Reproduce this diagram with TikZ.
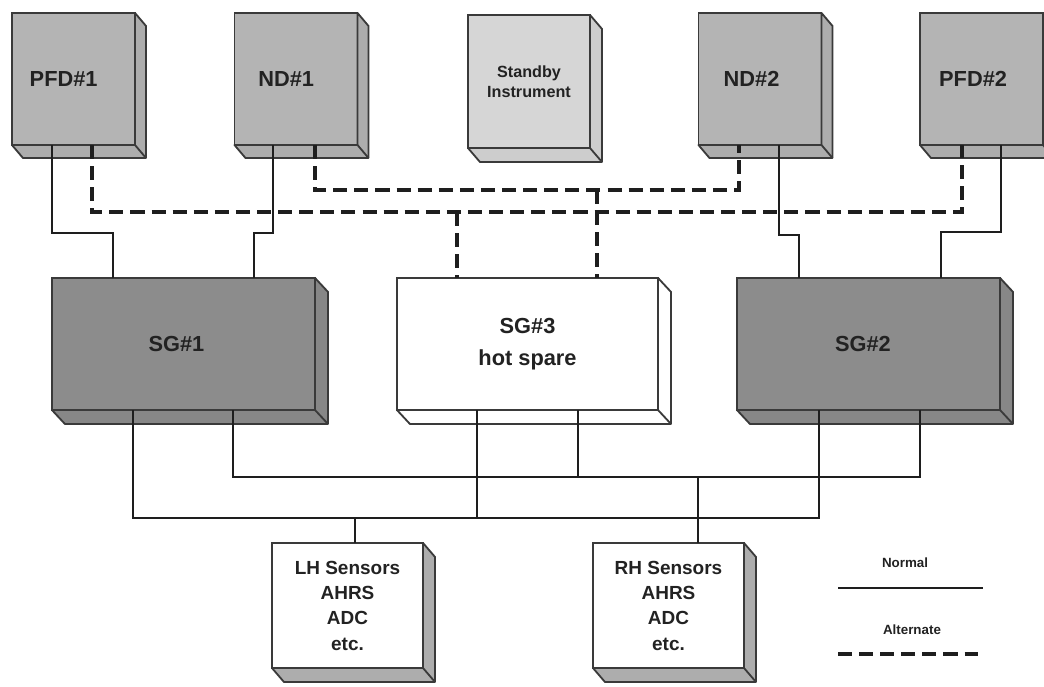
\documentclass[tikz,border=0pt]{standalone}
\usepackage{fontspec}
\setmainfont{Liberation Sans}
\usetikzlibrary{calc}
\definecolor{unitgray}{HTML}{B4B4B4}
\definecolor{unitside}{HTML}{ADADAD}
\definecolor{standbygray}{HTML}{D6D6D6}
\definecolor{standbyside}{HTML}{CDCDCD}
\definecolor{symgray}{HTML}{8C8C8C}
\definecolor{symside}{HTML}{878787}
\definecolor{edgegray}{HTML}{3A3A3A}
\definecolor{wireblack}{HTML}{1E1E1E}
\definecolor{labelgray}{HTML}{222222}

\tikzset{
  unit/.style={draw=edgegray, line width=1.3pt, outer sep=0pt, inner sep=0pt,
    align=center, text=labelgray},
  display/.style={unit, fill=unitgray, minimum width=3.075cm, minimum height=3.3cm,
    font=\bfseries\fontsize{15.5}{18}\selectfont},
  standby/.style={unit, fill=standbygray, minimum width=3.05cm, minimum height=3.325cm,
    font=\bfseries\fontsize{11.5}{14}\selectfont},
  symgen/.style={unit, minimum width=6.575cm, minimum height=3.3cm,
    font=\bfseries\fontsize{15.5}{23}\selectfont},
  sensor/.style={unit, fill=white, minimum width=3.775cm, minimum height=3.125cm,
    font=\bfseries\fontsize{13.5}{18}\selectfont},
  legendtext/.style={text=labelgray, font=\bfseries\fontsize{9.5}{11}\selectfont},
  normalwire/.style={draw=wireblack, line width=1.8pt},
  altwire/.style={draw=wireblack, line width=2.6pt, dash pattern=on 10pt off 5pt}
}

\begin{document}
\begin{tikzpicture}[x=0.025cm, y=-0.025cm]
  \useasboundingbox (0,0) rectangle (1044,686);
  \clip (0,0) rectangle (1044,686);

  % displays
  \node[display] (pfdL) at (73.5,79) {PFD\#1\hspace*{14pt}};
  \node[display] (ndL) at (296,79) {ND\#1\hspace*{14pt}};
  \node[standby] (stby) at (529,81.5) {Standby\\Instrument};
  \node[display] (ndR) at (760,79) {ND\#2\hspace*{12pt}};
  \node[display] (pfdR) at (981.5,79) {PFD\#2\hspace*{12pt}};

  % symbol generators
  \node[symgen, fill=symgray] (sgL) at (183.5,344) {SG\#1\hspace*{10pt}};
  \node[symgen, fill=white, minimum width=6.525cm] (sgSpare) at (527.5,344) {SG\#3\\hot spare};
  \node[symgen, fill=symgray] (sgR) at (868.5,344) {SG\#2\hspace*{8pt}};

  % sensors
  \node[sensor] (sensL) at (347.5,605.5) {LH Sensors\\AHRS\\ADC\\etc.};
  \node[sensor] (sensR) at (668.5,605.5) {RH Sensors\\AHRS\\ADC\\etc.};

  % depth faces
  \foreach \n/\d/\e/\c in {pfdL/11/13/unitside, ndL/11/13/unitside, stby/12/14/standbyside,
      ndR/11/13/unitside, pfdR/11/13/unitside, sgL/13/14/symside, sgSpare/13/14/white,
      sgR/13/14/symside, sensL/12/14/unitside, sensR/12/14/unitside} {
    \filldraw[fill=\c, draw=edgegray, line width=1.3pt, line join=round]
      (\n.north east) -- ++(\d,\e) -- ($(\n.south east)+(\d,\e)$)
      -- ($(\n.south west)+(\d,\e)$) -- (\n.south west) -- (\n.south east) -- cycle;
    \draw[edgegray, line width=1.3pt] (\n.south east) -- ++(\d,\e);
  }

  % normal links
  \draw[normalwire] (52,0 |- pfdL.south) -- (52,233) -| (113,0 |- sgL.north);
  \draw[normalwire] (273,0 |- ndL.south) -- (273,233) -| (254,0 |- sgL.north);
  \draw[normalwire] (779,0 |- ndR.south) -- (779,235) -| (799,0 |- sgR.north);
  \draw[normalwire] (1001,0 |- pfdR.south) -- (1001,232) -| (941,0 |- sgR.north);

  % alternate links
  \coordinate (altlow) at (0,212);
  \coordinate (althigh) at (0,190);
  \draw[altwire] (92,0 |- pfdL.south) |- (962,0 |- altlow) -- (962,0 |- pfdR.south);
  \draw[altwire] (315,0 |- ndL.south) |- (739,0 |- althigh) -- (739,0 |- ndR.south);
  \draw[altwire] (457,0 |- altlow) -- (457,0 |- sgSpare.north);
  \draw[altwire] (597,0 |- althigh) -- (597,0 |- sgSpare.north);

  % sensor buses
  \coordinate (busR) at (0,477);
  \coordinate (busL) at (0,518);
  \draw[normalwire] (233,0 |- sgL.south) |- (920,0 |- busR) -- (920,0 |- sgR.south);
  \draw[normalwire] (133,0 |- sgL.south) |- (819,0 |- busL) -- (819,0 |- sgR.south);
  \draw[normalwire] (578,0 |- sgSpare.south) -- (578,0 |- busR);
  \draw[normalwire] (477,0 |- sgSpare.south) -- (477,0 |- busL);
  \draw[normalwire] (698,0 |- busR) -- (698,0 |- sensR.north);
  \draw[normalwire] (355,0 |- busL) -- (355,0 |- sensL.north);

  % legend
  \node[legendtext] (normalkey) at (905,563) {Normal};
  \coordinate (normalA) at (838,588);
  \coordinate (normalB) at (983,588);
  \draw[normalwire] (normalA) -- (normalB);
  \node[legendtext] (altkey) at (912,630) {Alternate};
  \coordinate (altA) at (838,654);
  \coordinate (altB) at (978,654);
  \draw[altwire] (altA) -- (altB);
\end{tikzpicture}
\end{document}
